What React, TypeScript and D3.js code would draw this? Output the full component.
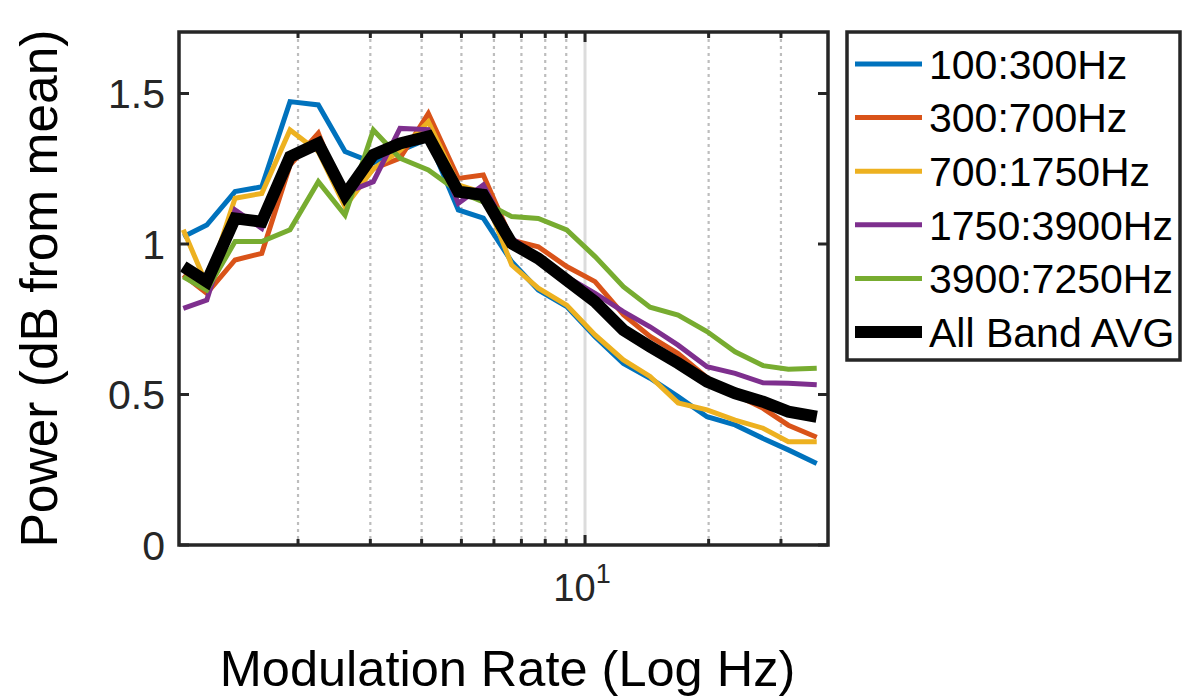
import React from "react";
import * as d3 from "d3";

const rates = [1.051, 1.199, 1.405, 1.632, 1.912, 2.241, 2.603, 3.051, 3.543, 4.153, 4.913, 5.653, 6.63, 7.695, 9.025, 10.58, 12.4, 14.4, 16.85, 19.82, 23.2, 27.14, 31.27, 36.67];

const band100_300 = [1.024, 1.063, 1.174, 1.19, 1.473, 1.462, 1.307, 1.27, 1.31, 1.35, 1.113, 1.086, 0.941, 0.847, 0.792, 0.692, 0.603, 0.554, 0.493, 0.426, 0.399, 0.354, 0.316, 0.271];
const band300_700 = [0.897, 0.836, 0.947, 0.969, 1.262, 1.368, 1.146, 1.25, 1.285, 1.434, 1.218, 1.229, 1.013, 0.991, 0.925, 0.875, 0.765, 0.693, 0.636, 0.556, 0.5, 0.454, 0.398, 0.358];
const band700_1750 = [1.047, 0.864, 1.152, 1.168, 1.379, 1.307, 1.124, 1.25, 1.31, 1.406, 1.196, 1.17, 0.93, 0.853, 0.797, 0.698, 0.615, 0.56, 0.472, 0.449, 0.415, 0.388, 0.343, 0.343];
const band1750_3900 = [0.786, 0.814, 1.113, 1.052, 1.29, 1.32, 1.17, 1.207, 1.384, 1.38, 1.135, 1.196, 1.019, 0.958, 0.891, 0.836, 0.775, 0.725, 0.664, 0.592, 0.57, 0.539, 0.537, 0.532];
const band3900_7250 = [0.891, 0.847, 1.008, 1.008, 1.047, 1.207, 1.096, 1.379, 1.285, 1.246, 1.174, 1.14, 1.091, 1.085, 1.047, 0.958, 0.858, 0.79, 0.764, 0.709, 0.642, 0.596, 0.584, 0.587];
const allBandAvg = [0.925, 0.875, 1.085, 1.074, 1.29, 1.334, 1.163, 1.296, 1.334, 1.357, 1.174, 1.163, 1.002, 0.952, 0.88, 0.808, 0.714, 0.659, 0.604, 0.543, 0.504, 0.476, 0.443, 0.426];

const seriesNames = ["100:300Hz", "300:700Hz", "700:1750Hz", "1750:3900Hz", "3900:7250Hz", "All Band AVG"];
const seriesColors = ["#0072BD", "#D95319", "#EDB120", "#7E2F8E", "#77AC30", "#000000"];
const seriesValues = [band100_300, band300_700, band700_1750, band1750_3900, band3900_7250, allBandAvg];

const yTicks = [0, 0.5, 1, 1.5];
const yTickLabels = ["0", "0.5", "1", "1.5"];
const xMinorTicks = [2, 3, 4, 5, 6, 7, 8, 9, 20, 30];
const xMajorTicks = [10];

export default function App() {
  const W = 1183, H = 697;
  const left = 179, right = 828, top = 32, bottom = 545;
  const x = d3.scaleLog().domain([1.026, 39.06]).range([left, right]);
  const y = d3.scaleLinear().domain([0, 1.7043]).range([bottom, top]);
  const axisColor = "#262626";
  const font = "'Liberation Sans', Arial, Helvetica, sans-serif";

  const line = d3.line<number>()
    .x((_, i) => x(rates[i]))
    .y((d) => y(d));

  const legendLeft = 847, legendTop = 32, legendRight = 1180, legendBottom = 360;
  const rowY0 = 64, rowStep = 53.6;

  return (
    <svg width={W} height={H} style={{ position: "absolute", left: 0, top: 0, background: "#fff" }}>
      <rect x={0} y={0} width={W} height={H} fill="#fff" />
      {/* grid */}
      {xMinorTicks.map((t) => (
        <line key={"g" + t} x1={x(t)} x2={x(t)} y1={top} y2={bottom} stroke="#bdbdbd" strokeWidth={2.2} strokeDasharray="3,4" />
      ))}
      {xMajorTicks.map((t) => (
        <line key={"G" + t} x1={x(t)} x2={x(t)} y1={top} y2={bottom} stroke="#dcdcdc" strokeWidth={3} />
      ))}
      {/* data lines */}
      {seriesValues.map((vals, si) => (
        <path
          key={seriesNames[si]}
          d={line(vals) || ""}
          fill="none"
          stroke={seriesColors[si]}
          strokeWidth={si === 5 ? 12 : 5}
          strokeLinejoin="miter"
          strokeMiterlimit={3}
        />
      ))}
      {/* ticks */}
      {yTicks.map((t) => (
        <g key={"yt" + t}>
          <line x1={left} x2={left + 10} y1={y(t)} y2={y(t)} stroke={axisColor} strokeWidth={3} />
          <line x1={right - 10} x2={right} y1={y(t)} y2={y(t)} stroke={axisColor} strokeWidth={3} />
        </g>
      ))}
      {xMinorTicks.map((t) => (
        <g key={"xt" + t}>
          <line x1={x(t)} x2={x(t)} y1={bottom} y2={bottom - 6} stroke={axisColor} strokeWidth={3} />
          <line x1={x(t)} x2={x(t)} y1={top} y2={top + 6} stroke={axisColor} strokeWidth={3} />
        </g>
      ))}
      {xMajorTicks.map((t) => (
        <g key={"xT" + t}>
          <line x1={x(t)} x2={x(t)} y1={bottom} y2={bottom - 10} stroke={axisColor} strokeWidth={3} />
          <line x1={x(t)} x2={x(t)} y1={top} y2={top + 10} stroke={axisColor} strokeWidth={3} />
        </g>
      ))}
      {/* axes box */}
      <rect x={left} y={top} width={right - left} height={bottom - top} fill="none" stroke={axisColor} strokeWidth={3.5} />
      {/* y tick labels */}
      {yTicks.map((t, i) => (
        <text key={"yl" + t} x={165} y={y(t)} dy="0.36em" textAnchor="end" fontFamily={font} fontSize={41} fill={axisColor}>
          {yTickLabels[i]}
        </text>
      ))}
      {/* x tick label 10^1 */}
      {xMajorTicks.map((t) => (
        <text key={"xl" + t} x={x(t) - 3} y={601} textAnchor="middle" fontFamily={font} fontSize={38} fill={axisColor}>
          {"10"}
          <tspan fontSize={27} dy={-18}>{"1"}</tspan>
        </text>
      ))}
      {/* axis labels */}
      <text x={(left + right) / 2 + 4} y={686} textAnchor="middle" fontFamily={font} fontSize={50.5} fill="#000">
        Modulation Rate (Log Hz)
      </text>
      <text transform={`translate(57, ${(top + bottom) / 2}) rotate(-90)`} textAnchor="middle" fontFamily={font} fontSize={51.5} fill="#000">
        Power (dB from mean)
      </text>
      {/* legend */}
      <rect x={legendLeft} y={legendTop} width={legendRight - legendLeft} height={legendBottom - legendTop} fill="#fff" stroke={axisColor} strokeWidth={3.5} />
      {seriesNames.map((n, i) => (
        <g key={"lg" + n}>
          <line x1={855} x2={922} y1={rowY0 + i * rowStep} y2={rowY0 + i * rowStep} stroke={seriesColors[i]} strokeWidth={i === 5 ? 12 : 5} />
          <text x={929} y={rowY0 + i * rowStep} dy="0.36em" fontFamily={font} fontSize={41} fill="#000">
            {n}
          </text>
        </g>
      ))}
    </svg>
  );
}
